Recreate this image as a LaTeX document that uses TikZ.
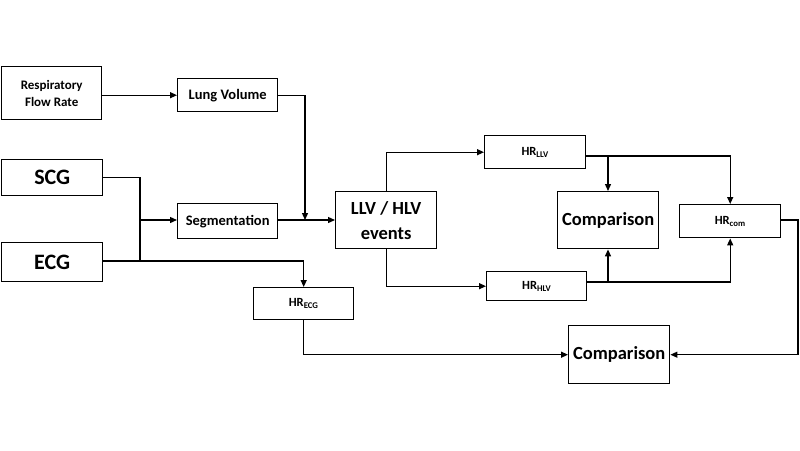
\documentclass[tikz,border=0pt]{standalone}
\usepackage{fontspec}
\setmainfont{Carlito}
\usetikzlibrary{arrows.meta}
\begin{document}
\begin{tikzpicture}[x=1pt,y=-1pt,
  box/.style={draw,line width=1.4pt,inner sep=0pt,anchor=north west,align=center,font=\bfseries},
  ar/.style={-{Triangle[length=7pt,width=6pt]},line width=1.3pt},
  ln/.style={line width=1.3pt}]
\useasboundingbox (0,0) rectangle (800,450);
\node[box,minimum width=100pt,minimum height=53pt,font=\bfseries\fontsize{13}{17}\selectfont] (resp) at (1,66) {Respiratory\\Flow Rate};
\node[box,minimum width=100pt,minimum height=33pt,font=\bfseries\fontsize{14.5}{16}\selectfont] (lung) at (177,78) {Lung Volume};
\node[box,minimum width=101pt,minimum height=36pt,font=\bfseries\fontsize{22}{24}\selectfont] (scg) at (1,159) {SCG};
\node[box,minimum width=101pt,minimum height=39pt,font=\bfseries\fontsize{22}{24}\selectfont] (ecg) at (1,242) {ECG};
\node[box,minimum width=100pt,minimum height=35pt,font=\bfseries\fontsize{14.5}{16}\selectfont] (seg) at (177,203) {Segmentation};
\node[box,minimum width=101pt,minimum height=57pt,font=\bfseries\fontsize{18.5}{25}\selectfont] (llv) at (335,191) {LLV / HLV\\events};
\node[box,minimum width=100pt,minimum height=32pt,font=\bfseries\fontsize{12.5}{14}\selectfont] (hrecg) at (253,287) {HR\textsubscript{ECG}};
\node[box,minimum width=101pt,minimum height=33pt,font=\bfseries\fontsize{12.5}{14}\selectfont] (hrllv) at (484,135) {HR\textsubscript{LLV}};
\node[box,minimum width=100pt,minimum height=29pt,font=\bfseries\fontsize{12.5}{14}\selectfont] (hrhlv) at (486,271) {HR\textsubscript{HLV}};
\node[box,minimum width=101pt,minimum height=57pt,font=\bfseries\fontsize{18.5}{21}\selectfont] (cmp1) at (557,191) {Comparison};
\node[box,minimum width=101pt,minimum height=33pt,font=\bfseries\fontsize{12.5}{14}\selectfont] (hrcom) at (679,204) {HR\textsubscript{com}};
\node[box,minimum width=101pt,minimum height=58pt,font=\bfseries\fontsize{18.5}{21}\selectfont] (cmp2) at (568,325) {Comparison};
\coordinate (j1) at (140,261);
\coordinate (j2) at (305,220);
\coordinate (j3) at (608,156);
\coordinate (j4) at (608,282);
\coordinate (k) at (798,220);
\draw[ar] (resp.east |- lung.west) -- (lung.west);
\draw[ar] (lung.east) -| (j2);
\draw[ln] (scg.east) -| (j1);
\draw[ar] (ecg.east |- j1) -| (hrecg.north);
\draw[ar] (140,220) -- (seg.west |- 140,220);
\draw[ar] (seg.east |- j2) -- (llv.west |- j2);
\draw[ar] (llv.north) |- (hrllv.west);
\draw[ar] (llv.south) |- (hrhlv.west);
\draw[ar] (hrllv.east |- j3) -| (hrcom.north);
\draw[ar] (j3) -- (cmp1.north -| j3);
\draw[ar] (hrhlv.east |- j4) -| (hrcom.south);
\draw[ar] (j4) -- (cmp1.south -| j4);
\draw[ar] (hrcom.east |- k) -- (k) |- (cmp2.east);
\draw[ar] (hrecg.south) |- (cmp2.west);
\end{tikzpicture}
\end{document}
